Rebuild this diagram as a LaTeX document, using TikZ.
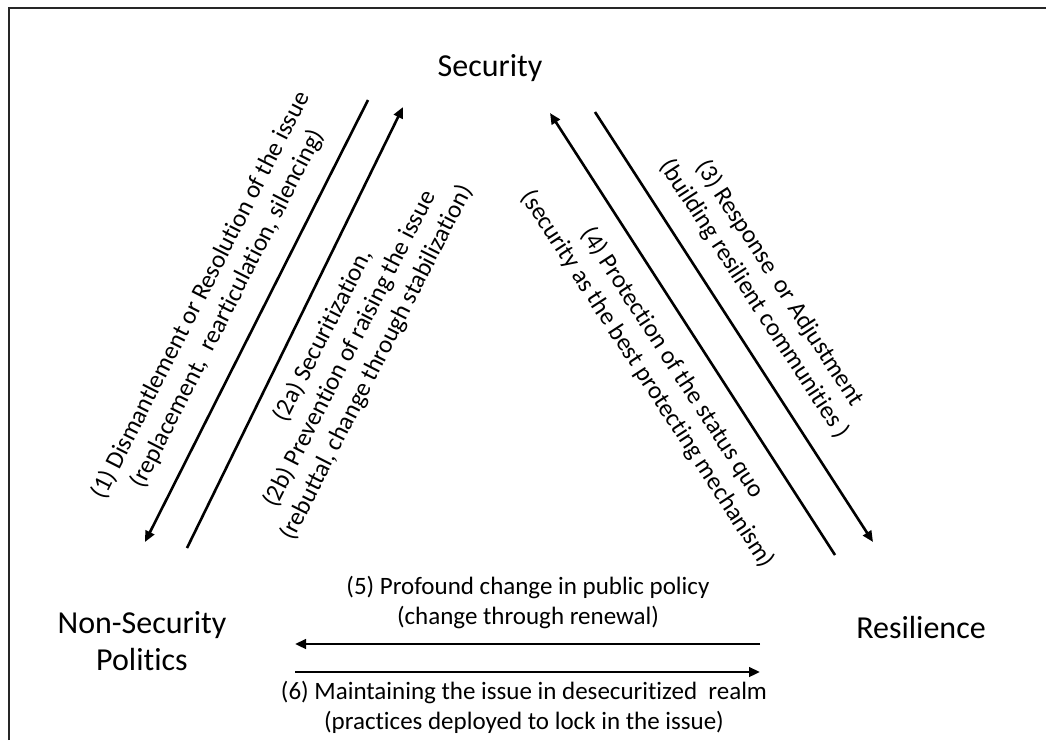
\documentclass[tikz,border=0pt]{standalone}
\usepackage{fontspec}
\setmainfont{Carlito}[Ligatures={NoCommon,NoRequired,NoContextual}]
\usetikzlibrary{arrows.meta}
\begin{document}
\begin{tikzpicture}[x=1pt,y=1pt,
  bigtext/.style={font=\fontsize{32}{37}\selectfont, inner sep=0pt, align=center},
  lbl/.style={font=\fontsize{25}{30}\selectfont, inner sep=0pt, align=center},
  flow/.style={line width=2.6pt, -{Triangle[length=11pt,width=9.5pt]}},
  frame/.style={line width=2pt, draw=black!85}
]
\useasboundingbox (0,0) rectangle (1046,-740);
% frame
\coordinate (f1) at (9,-740);
\coordinate (f2) at (9,-8);
\coordinate (f3) at (1046,-8);
\draw[frame] (f1) -- (f2) -- (f3);

% main nodes
\node[bigtext, anchor=base] (sec) at (490,-76) {Security};
\node[bigtext, anchor=base] (res) at (921,-638) {Resilience};
\node[bigtext] (nsp) at (142,-641) {Non-Security\\Politics};

% arrow end points
\coordinate (a1s) at (368,-100);
\coordinate (a1e) at (145,-542);
\coordinate (a2s) at (187,-548);
\coordinate (a2e) at (403,-107);
\coordinate (a3s) at (595,-112);
\coordinate (a3e) at (873,-542);
\coordinate (a4s) at (835,-555);
\coordinate (a4e) at (550,-113);
\coordinate (a5s) at (760,-644);
\coordinate (a5e) at (295,-644);
\coordinate (a6s) at (295,-672);
\coordinate (a6e) at (760,-672);

\draw[flow] (a1s) -- (a1e);
\draw[flow] (a2s) -- (a2e);
\draw[flow] (a3s) -- (a3e);
\draw[flow] (a4s) -- (a4e);
\draw[flow] (a5s) -- (a5e);
\draw[flow] (a6s) -- (a6e);

% labels
\node[lbl, rotate=63] (l1) at (214,-302) {(1) Dismantlement or Resolution of the issue\\(replacement,~ rearticulation, silencing)};
\node[lbl, rotate=63] (l2) at (350,-349) {(2a) Securitization,\\(2b) Prevention of raising the issue\\(rebuttal, change through stabilization)};
\node[lbl, rotate=-57] (l3) at (767,-291) {(3) Response~ or Adjustment\\(building resilient communities )};
\node[lbl, rotate=-57] (l4) at (660,-371) {(4) Protection of the status quo\\(security as the best protecting mechanism)};
\node[lbl] (l5) at (528,-602) {(5) Profound change in public policy\\(change through renewal)};
\node[lbl] (l6) at (524,-707) {(6) Maintaining the issue in desecuritized~ realm\\(practices deployed to lock in the issue)};
\end{tikzpicture}
\end{document}
